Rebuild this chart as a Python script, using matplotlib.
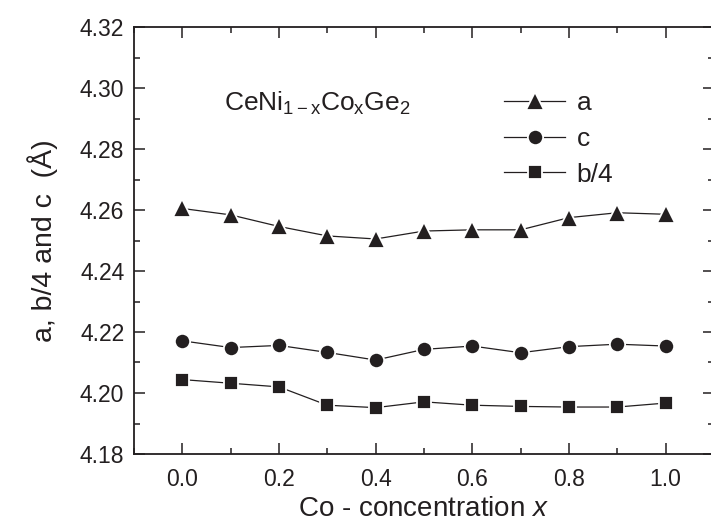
import matplotlib
matplotlib.use("Agg")
import matplotlib.pyplot as plt
from matplotlib.ticker import MultipleLocator, FormatStrFormatter

plt.rcParams['font.family'] = ['Liberation Sans', 'DejaVu Sans']
plt.rcParams['mathtext.fontset'] = 'custom'
plt.rcParams['mathtext.rm'] = 'Liberation Sans'
plt.rcParams['mathtext.it'] = 'Liberation Sans:italic'
plt.rcParams['mathtext.default'] = 'rm'

# Co concentration and lattice parameters (Å)
x_co = [0.0, 0.1, 0.2, 0.3, 0.4, 0.5, 0.6, 0.7, 0.8, 0.9, 1.0]
a_param = [4.2605, 4.2584, 4.2546, 4.2515, 4.2505, 4.2531, 4.2535, 4.2535, 4.2575, 4.2591, 4.2586]
c_param = [4.2171, 4.2149, 4.2156, 4.2133, 4.2108, 4.2143, 4.2154, 4.2132, 4.2152, 4.2160, 4.2154]
b4_param = [4.2044, 4.2032, 4.2020, 4.1960, 4.1952, 4.1971, 4.1960, 4.1956, 4.1954, 4.1954, 4.1967]

series_labels = ["a", "c", "b/4"]
ink = "#231f20"

fig = plt.figure(figsize=(7.11, 5.23), dpi=100)
ax = fig.add_axes([134 / 711, 69 / 523, 580 / 711, 427 / 523])

common = dict(color=ink, lw=0.9, markerfacecolor=ink, markeredgecolor="white",
              markeredgewidth=1.3)
ax.plot(x_co, a_param, marker="^", ms=12.5, label=series_labels[0], **common)
ax.plot(x_co, c_param, marker="o", ms=11, label=series_labels[1], **common)
ax.plot(x_co, b4_param, marker="s", ms=10, label=series_labels[2], **common)

ax.set_xlim(-0.1, 1.1)
ax.set_ylim(4.18, 4.32)
ax.xaxis.set_major_locator(MultipleLocator(0.2))
ax.xaxis.set_minor_locator(MultipleLocator(0.1))
ax.yaxis.set_major_locator(MultipleLocator(0.02))
ax.yaxis.set_minor_locator(MultipleLocator(0.01))
ax.xaxis.set_major_formatter(FormatStrFormatter("%.1f"))
ax.yaxis.set_major_formatter(FormatStrFormatter("%.2f"))

ax.tick_params(which="both", direction="in", top=True, right=True,
               color=ink, labelcolor=ink)
ax.tick_params(which="major", length=8, width=1.1, labelsize=16.5)
ax.tick_params(axis="x", which="major", pad=10)
ax.tick_params(axis="y", which="major", pad=7)
ax.tick_params(which="minor", length=4.5, width=1.1)
for sp in ax.spines.values():
    sp.set_linewidth(1.3)
    sp.set_color(ink)

ax.set_xlabel("Co - concentration $\\mathit{x}$", fontsize=20, color=ink, labelpad=4)
ax.set_ylabel("a, b/4 and c  (Å)", fontsize=20.5, color=ink, labelpad=16)

ax.text(0.156, 0.803, r"CeNi$_{1-x}$Co$_{x}$Ge$_{2}$", transform=ax.transAxes,
        fontsize=19, color=ink, ha="left", va="baseline")

ax.legend(loc="upper left", bbox_to_anchor=(0.62, 0.875), frameon=False,
          fontsize=19, handlelength=2.3, handletextpad=0.45, labelspacing=0.45,
          borderaxespad=0, labelcolor=ink)

fig.savefig("out.png", dpi=100)
